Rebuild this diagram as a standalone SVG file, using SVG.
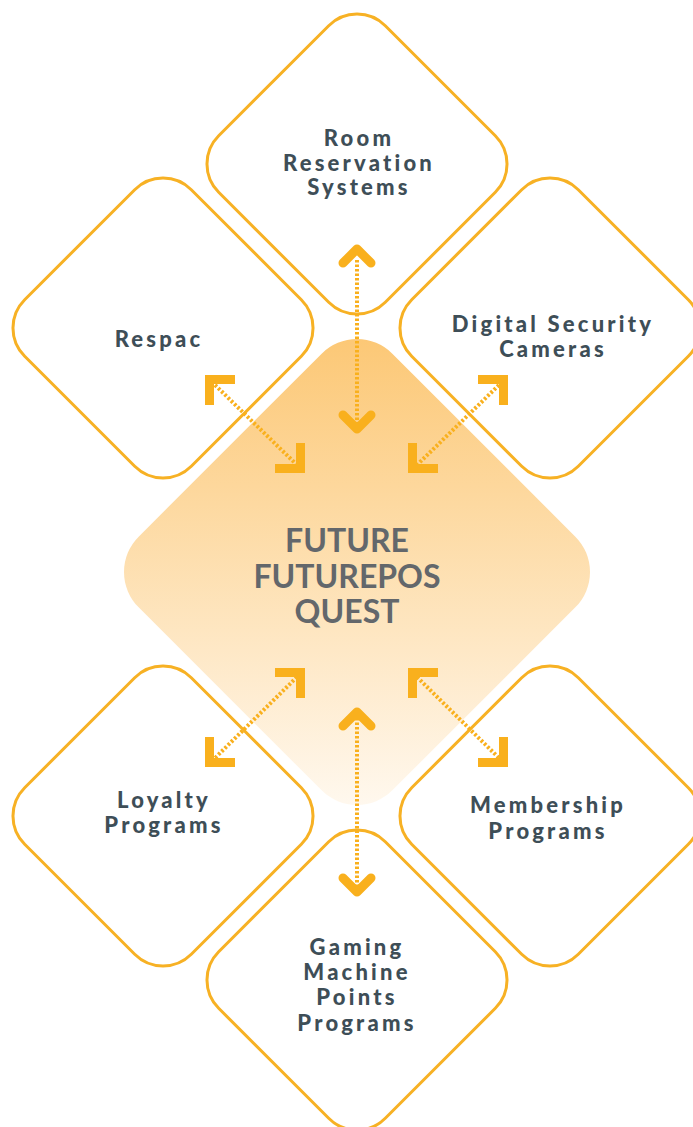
<svg xmlns="http://www.w3.org/2000/svg" width="693" height="1127" viewBox="0 0 693 1127">
<defs>
<linearGradient id="cg" gradientUnits="userSpaceOnUse" x1="357" y1="339" x2="357" y2="805" gradientTransform="rotate(-45 357 572)">
<stop offset="0" stop-color="#FCC876"/>
<stop offset="1" stop-color="#FFF8EE"/>
</linearGradient>
<style>
.node{fill:#fff;stroke:#F7B124;stroke-width:3}
.lbl{font-family:"Lato","Liberation Sans",sans-serif;font-weight:900;font-size:22px;letter-spacing:3.2px;fill:#3E4E57;text-anchor:middle}
.ctr{font-family:"Lato","Liberation Sans",sans-serif;font-weight:700;font-size:32px;fill:#63676B;text-anchor:middle}
.dot{stroke:#F9B01D;stroke-width:4;stroke-dasharray:2.5 2;fill:none}
.chev{stroke:#F9B01D;stroke-width:9;fill:none;stroke-linecap:round;stroke-linejoin:round}
.brk{stroke:#F9B01D;stroke-width:9;fill:none;stroke-linejoin:miter}
</style>
</defs>
<rect width="693" height="1127" fill="#fff"/>
<g id="center">
<rect x="177.6" y="392.6" width="358.8" height="358.8" rx="50" fill="url(#cg)" transform="rotate(45 357 572)"/>
<text class="ctr" x="347" y="552">FUTURE</text>
<text class="ctr" x="347" y="588">FUTUREPOS</text>
<text class="ctr" x="347" y="623">QUEST</text>
</g>
<g id="room">
<rect class="node" x="239.2" y="46.2" width="235.6" height="235.6" rx="40" transform="rotate(45 357 164)"/>
<text class="lbl" x="359" y="146">Room</text>
<text class="lbl" x="359" y="171">Reservation</text>
<text class="lbl" x="359" y="195">Systems</text>
</g>
<g id="respac">
<rect class="node" x="45.2" y="210.2" width="235.6" height="235.6" rx="40" transform="rotate(45 163 328)"/>
<text class="lbl" x="159" y="347">Respac</text>
</g>
<g id="cameras">
<rect class="node" x="432.2" y="210.2" width="235.6" height="235.6" rx="40" transform="rotate(45 550 328)"/>
<text class="lbl" x="553" y="332">Digital Security</text>
<text class="lbl" x="553" y="357">Cameras</text>
</g>
<g id="loyalty">
<rect class="node" x="45.2" y="698.2" width="235.6" height="235.6" rx="40" transform="rotate(45 163 816)"/>
<text class="lbl" x="164" y="808">Loyalty</text>
<text class="lbl" x="164" y="833">Programs</text>
</g>
<g id="membership">
<rect class="node" x="432.2" y="698.2" width="235.6" height="235.6" rx="40" transform="rotate(45 550 816)"/>
<text class="lbl" x="548" y="813">Membership</text>
<text class="lbl" x="548" y="839">Programs</text>
</g>
<g id="gaming">
<rect class="node" x="239.2" y="862.2" width="235.6" height="235.6" rx="40" transform="rotate(45 357 980)"/>
<text class="lbl" x="357" y="955">Gaming</text>
<text class="lbl" x="357" y="980">Machine</text>
<text class="lbl" x="357" y="1005">Points</text>
<text class="lbl" x="357" y="1031">Programs</text>
</g>
<g id="connectors">
<line class="dot" x1="357" y1="260" x2="357" y2="425"/>
<polyline class="chev" points="343,263 357,249 371,263"/>
<polyline class="chev" points="343,415 357,429 371,415"/>
<line class="dot" x1="215" y1="385" x2="297" y2="465"/>
<path class="brk" d="M209.5,405 V379.5 H235"/>
<path class="brk" d="M300.5,443 V468.5 H275"/>
<line class="dot" x1="499" y1="385" x2="417" y2="465"/>
<path class="brk" d="M478,379.5 H503.5 V405"/>
<path class="brk" d="M412.5,443 V468.5 H438"/>
<line class="dot" x1="297" y1="677" x2="215" y2="758"/>
<path class="brk" d="M275,672.5 H300.5 V698"/>
<path class="brk" d="M209.5,737 V762.5 H235"/>
<line class="dot" x1="417" y1="677" x2="499" y2="758"/>
<path class="brk" d="M438,672.5 H412.5 V698"/>
<path class="brk" d="M503.5,737 V762.5 H478"/>
<line class="dot" x1="357" y1="718" x2="357" y2="887"/>
<polyline class="chev" points="343,726 357,712 371,726"/>
<polyline class="chev" points="343,878 357,892 371,878"/>
</g>
</svg>
